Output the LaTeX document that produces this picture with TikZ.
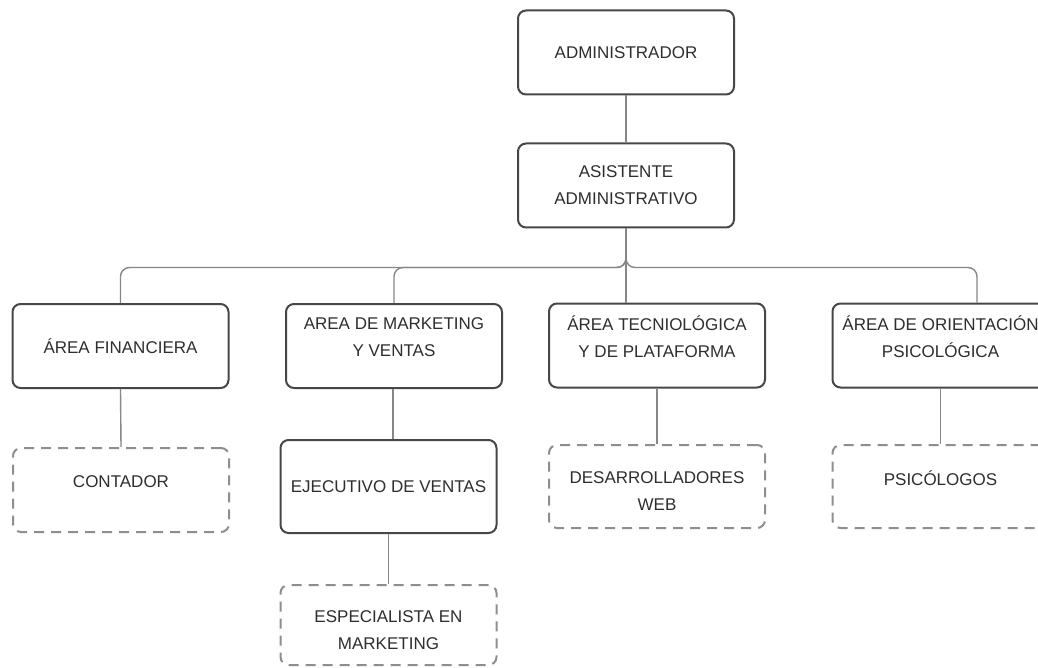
\documentclass[tikz,border=0pt]{standalone}
\usepackage{fontspec}
\setmainfont{Liberation Sans}
\definecolor{boxline}{HTML}{474747}
\definecolor{postline}{HTML}{8E8E8E}
\definecolor{linkline}{HTML}{878787}
\definecolor{labeltext}{HTML}{2E2E2E}
\tikzset{
  unit/.style={draw=boxline,line width=2pt,rounded corners=8pt,
    minimum width=216pt,minimum height=84pt},
  post/.style={unit,draw=postline,dash pattern=on 10pt off 7pt},
  txt/.style={align=center,text=labeltext,inner sep=0pt,
    font=\fontsize{17}{27}\selectfont},
  link/.style={draw=linkline,line width=1.4pt,rounded corners=9pt}
}

\begin{document}
\begin{tikzpicture}[x=1pt,y=-1pt]
\fill[white] (0,0) rectangle (1038,668);
\useasboundingbox (0,0) rectangle (1038,668);

% top of the chart
\node[unit] (admin) at (626,52.5) {};
\node[txt] at (admin) {ADMINISTRADOR};
\node[unit] (asist) at (626,185.5) {};
\node[txt] at (asist) {ASISTENTE\\ADMINISTRATIVO};

% areas
\node[unit] (fin) at (120.5,346) {};
\node[txt] at (fin) {ÁREA FINANCIERA};
\node[unit] (mkt) at (394,346) {};
\node[txt,yshift=9pt] at (mkt) {AREA DE MARKETING\\Y VENTAS};
\node[unit] (tec) at (657,345.5) {};
\node[txt,yshift=9pt] at (tec) {ÁREA TECNIOLÓGICA\\Y DE PLATAFORMA};
\node[unit] (ori) at (940.5,345.5) {};
\node[txt,yshift=9pt] at (ori) {ÁREA DE ORIENTACIÓN\\PSICOLÓGICA};

% staff
\node[post,minimum height=84pt] (cont) at (121,490) {};
\node[txt,yshift=8pt] at (cont) {CONTADOR};
\node[unit,minimum height=93pt] (ejec) at (388.5,486.5) {};
\node[txt] at (ejec) {EJECUTIVO DE VENTAS};
\node[post,minimum height=83pt] (des) at (657,486.5) {};
\node[txt,yshift=-5pt] at (des) {DESARROLLADORES\\WEB};
\node[post,minimum height=83pt] (psi) at (940.5,486.5) {};
\node[txt,yshift=8pt] at (psi) {PSICÓLOGOS};
\node[post,minimum height=80pt] (esp) at (388.5,625) {};
\node[txt,yshift=-5pt] at (esp) {ESPECIALISTA EN\\MARKETING};

% connectors
\coordinate (split) at ([yshift=-39pt]asist.south);
\draw[link] (admin.south) -- (asist.north);
\draw[link] (asist.south) -- (asist.south |- tec.north);
\draw[link] (asist.south) -- (split) -| (fin.north);
\draw[link] (asist.south) -- (split) -| (mkt.north);
\draw[link] (asist.south) -- (split) -| ([xshift=36.5pt]ori.north);
\draw[link] (fin.south) -- (cont.north);
\draw[link] ([xshift=-1pt]mkt.south) -- ([xshift=-1pt]mkt.south |- ejec.north);
\draw[link] (ejec.south) -- (esp.north);
\draw[link] (tec.south) -- (des.north);
\draw[link] (ori.south) -- (psi.north);
\end{tikzpicture}
\end{document}
